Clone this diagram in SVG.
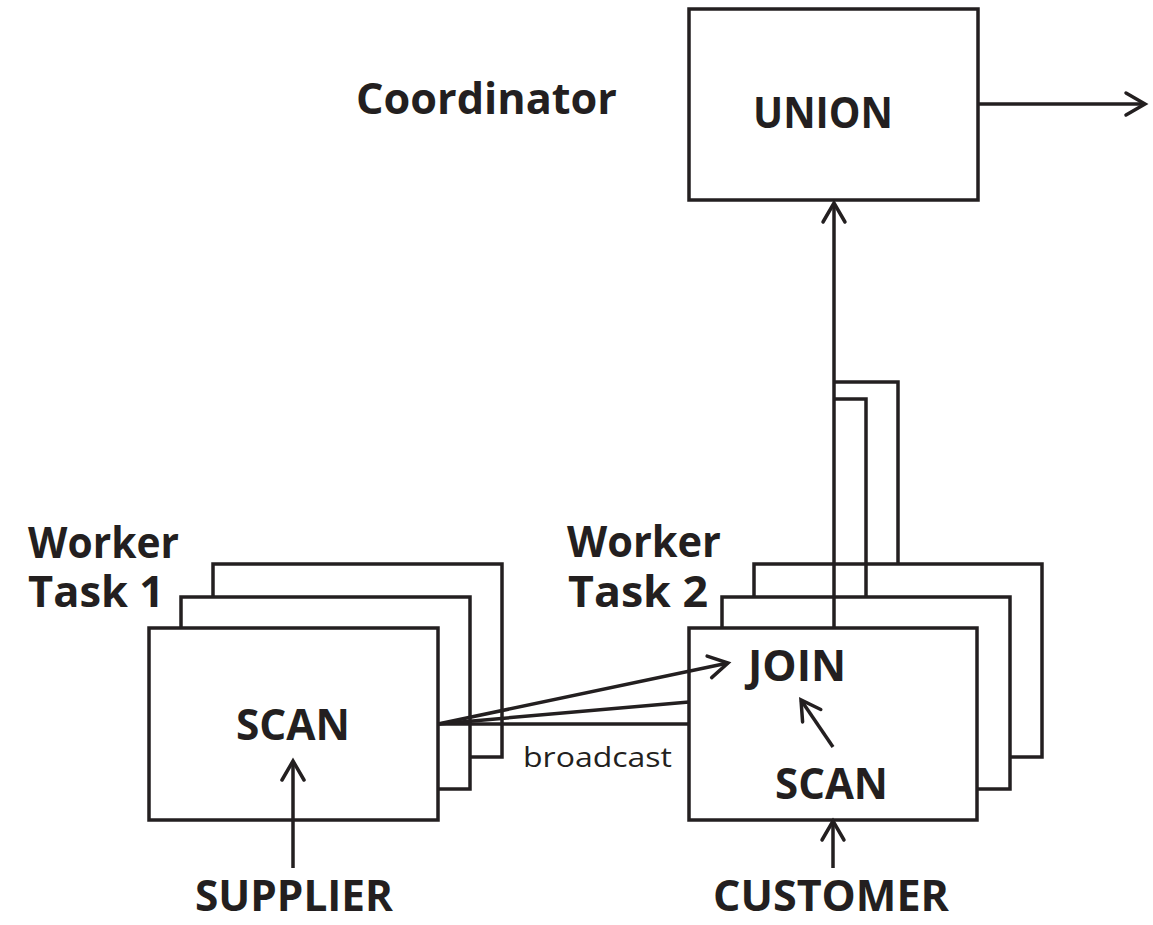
<svg xmlns="http://www.w3.org/2000/svg" width="1153" height="925" viewBox="0 0 1153 925">
<defs>
<style>
.box{fill:#fff;stroke:#231f20;stroke-width:3.5}
.ln{fill:none;stroke:#231f20;stroke-width:3.5}
.lbl{font-family:"Open Sans","DejaVu Sans",sans-serif;font-weight:700;font-size:43px;fill:#231f20}
.sm{font-family:"Open Sans","DejaVu Sans",sans-serif;font-weight:400;font-size:28px;fill:#231f20}
</style>
<marker id="ah" markerUnits="userSpaceOnUse" orient="auto" markerWidth="30" markerHeight="30" refX="0" refY="0" viewBox="-22 -15 26 30" overflow="visible">
<path d="M-19,-11 L0,0 L-19,11" fill="none" stroke="#231f20" stroke-width="3.5" stroke-linecap="round"/>
</marker>
</defs>
<rect width="1153" height="925" fill="#fff"/>
<text class="lbl" x="356" y="114" textLength="261" lengthAdjust="spacingAndGlyphs">Coordinator</text>
<g id="union">
<rect class="box" x="689" y="9" width="289" height="191"/>
<text class="lbl" x="753" y="128" textLength="140" lengthAdjust="spacingAndGlyphs">UNION</text>
</g>
<g id="worker1">
<rect class="box" x="213" y="564" width="289" height="193"/>
<rect class="box" x="181" y="597" width="289" height="192"/>
<rect class="box" x="149" y="628" width="289" height="192"/>
<text class="lbl" x="236" y="740" textLength="114" lengthAdjust="spacingAndGlyphs">SCAN</text>
</g>
<text class="lbl" x="28" y="558" textLength="151" lengthAdjust="spacingAndGlyphs">Worker</text>
<text class="lbl" x="28" y="607" textLength="136" lengthAdjust="spacingAndGlyphs">Task 1</text>
<g id="worker2">
<rect class="box" x="754" y="564" width="288" height="193"/>
<rect class="box" x="722" y="597" width="288" height="192"/>
<rect class="box" x="689" y="628" width="288" height="192"/>
<text class="lbl" x="748" y="681" textLength="98" lengthAdjust="spacingAndGlyphs">JOIN</text>
<text class="lbl" x="775" y="799" textLength="113" lengthAdjust="spacingAndGlyphs">SCAN</text>
</g>
<text class="lbl" x="567" y="557" textLength="154" lengthAdjust="spacingAndGlyphs">Worker</text>
<text class="lbl" x="568" y="607" textLength="140" lengthAdjust="spacingAndGlyphs">Task 2</text>
<g id="supplier"><text class="lbl" x="195" y="911" textLength="198" lengthAdjust="spacingAndGlyphs">SUPPLIER</text></g>
<g id="customer"><text class="lbl" x="713" y="911" textLength="236" lengthAdjust="spacingAndGlyphs">CUSTOMER</text></g>
<g id="connectors">
<line class="ln" x1="978" y1="104" x2="1145" y2="104" marker-end="url(#ah)"/>
<line class="ln" x1="834" y1="628" x2="834" y2="203" marker-end="url(#ah)"/>
<polyline class="ln" points="834,399 866,399 866,597"/>
<polyline class="ln" points="834,382 898,382 898,564"/>
<line class="ln" x1="438" y1="724" x2="689" y2="724"/>
<line class="ln" x1="438" y1="724" x2="689" y2="702"/>
<line class="ln" x1="438" y1="724" x2="728" y2="663" marker-end="url(#ah)"/>
<line class="ln" x1="833" y1="747" x2="801" y2="700" marker-end="url(#ah)"/>
<line class="ln" x1="293" y1="868" x2="293" y2="761" marker-end="url(#ah)"/>
<line class="ln" x1="833" y1="868" x2="833" y2="821" marker-end="url(#ah)"/>
<text class="sm" x="523" y="767" textLength="149" lengthAdjust="spacingAndGlyphs">broadcast</text>
</g>
</svg>
